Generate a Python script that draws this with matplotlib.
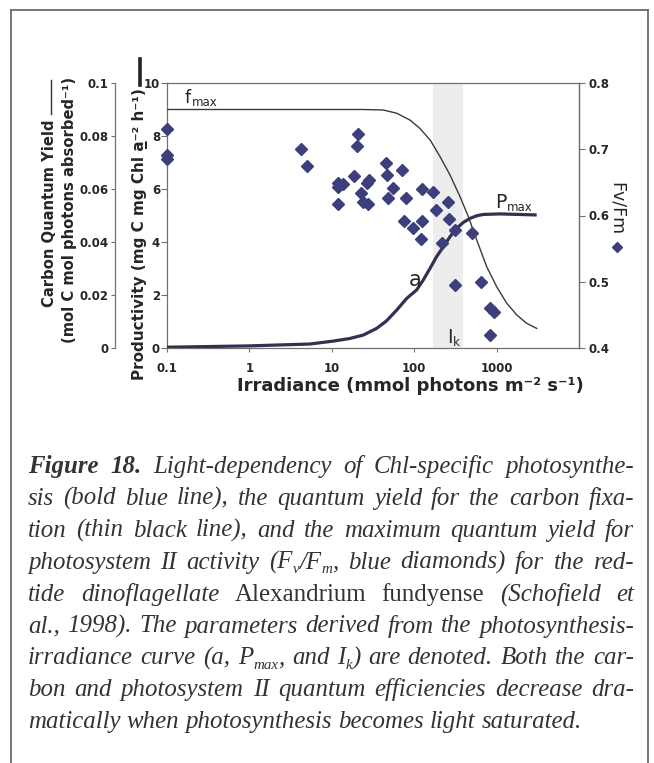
import re
import matplotlib
matplotlib.use('Agg')
import matplotlib.pyplot as plt
from matplotlib.lines import Line2D
from matplotlib.ticker import NullLocator, FixedLocator, FixedFormatter

# ---------------- data ----------------
# carbon quantum yield curve (thin black line), mol C / mol photons
irr_phi = [0.1, 1, 10, 24.2, 42.2, 61.3, 89, 117, 156, 206, 272, 360, 454, 573,
           758, 1003, 1326, 1754, 2318, 3065]
phi_c = [0.0900, 0.0900, 0.0900, 0.0900, 0.0898, 0.0886, 0.0860, 0.0829, 0.0785,
         0.0722, 0.0653, 0.0571, 0.0496, 0.0408, 0.0307, 0.0231, 0.0169, 0.0125,
         0.0093, 0.0074]

# productivity curve (bold line), mg C mg Chl a^-1 h^-1
irr_p = [0.1, 1.0, 5.4, 10.4, 16.6, 24.2, 35, 46, 61.3, 81, 107, 129, 156, 187,
         226, 272, 328, 395, 475, 573, 690, 1100, 3065]
prod = [0.03, 0.08, 0.15, 0.26, 0.36, 0.49, 0.74, 1.02, 1.43, 1.87, 2.19, 2.57,
        3.01, 3.45, 3.82, 4.20, 4.52, 4.74, 4.89, 4.99, 5.04, 5.06, 5.02]

# Fv/Fm (diamonds)
irr_fv = [0.1, 0.1, 0.1, 4.2, 5.0, 12, 12, 13.8, 12, 18.6, 21, 20, 22.3, 24, 27.6,
          26.4, 28, 46, 47, 48.5, 55, 72, 79, 75, 98, 123, 123, 120, 171, 184,
          215, 257, 267, 314, 314, 500, 645, 835, 935, 835]
fvfm = [0.730, 0.691, 0.685, 0.700, 0.675, 0.649, 0.643, 0.648, 0.617, 0.659,
        0.723, 0.705, 0.634, 0.621, 0.618, 0.649, 0.653, 0.679, 0.661, 0.626,
        0.641, 0.669, 0.626, 0.591, 0.581, 0.640, 0.591, 0.565, 0.636, 0.609,
        0.559, 0.620, 0.594, 0.578, 0.495, 0.573, 0.499, 0.460, 0.454, 0.420]

# shaded I_k band (irradiance range)
band = (170, 390)

x_ticks = [0.1, 1, 10, 100, 1000]
x_ticklabels = ['0.1', '1', '10', '100', '1000']
p_ticks = [0, 2, 4, 6, 8, 10]
p_ticklabels = ['0', '2', '4', '6', '8', '10']
q_ticks = [0, 0.02, 0.04, 0.06, 0.08, 0.1]
q_ticklabels = ['0', '0.02', '0.04', '0.06', '0.08', '0.1']
f_ticks = [0.4, 0.5, 0.6, 0.7, 0.8]
f_ticklabels = ['0.4', '0.5', '0.6', '0.7', '0.8']

caption_lines = [
    "**Figure 18.** Light-dependency of Chl-specific photosynthe-",
    "sis (bold blue line), the quantum yield for the carbon fixa-",
    "tion (thin black line), and the maximum quantum yield for",
    "photosystem II activity (F_{v}/F_{m}, blue diamonds) for the red-",
    "tide dinoflagellate ^^Alexandrium fundyense^^ (Schofield et",
    "al., 1998). The parameters derived from the photosynthesis-",
    "irradiance curve (a, P_{max}, and I_{k}) are denoted. Both the car-",
    "bon and photosystem II quantum efficiencies decrease dra-",
    "matically when photosynthesis becomes light saturated.",
]

# ---------------- figure ----------------
W, H = 654, 763
fig = plt.figure(figsize=(W / 100, H / 100), dpi=100)
fig.patch.set_facecolor('white')
plt.rcParams['font.family'] = ['DejaVu Sans']

TXT = '#262626'
SPINE = '#707070'
DIAM = '#3d3f7d'


def fx(px):
    return px / W


def fy(py):
    return 1 - py / H


# frame around the figure
for xs, ys in [([11, 11], [10, 763]), ([11, 648], [10, 10]), ([648, 648], [10, 763])]:
    fig.add_artist(Line2D([fx(v) for v in xs], [fy(v) for v in ys],
                          color='#6a6a6a', lw=1.3))

ax = fig.add_axes([fx(167), fy(348), (579 - 167) / W, (348 - 83) / H])
ax.set_xscale('log')
ax.set_xlim(0.1, 10000)
ax.set_ylim(0, 10)
ax.axvspan(band[0], band[1], color='#ededed', lw=0, zorder=0)
ax.plot(irr_p, prod, color='#30324f', lw=2.3, solid_capstyle='butt', zorder=3)
for s in ax.spines.values():
    s.set_color(SPINE)
    s.set_linewidth(0.9)

# carbon quantum yield axis (far left)
axq = ax.twinx()
axq.set_ylim(0, 0.1)
axq.plot(irr_phi, phi_c, color='#3a3a3a', lw=1.0, zorder=3)
axq.yaxis.tick_left()
axq.spines['left'].set_position(('outward', 52 * 72 / 100))
axq.spines['left'].set_color(SPINE)
axq.spines['left'].set_linewidth(0.9)
for k in ['right', 'top', 'bottom']:
    axq.spines[k].set_visible(False)
axq.yaxis.set_major_locator(FixedLocator(q_ticks))
axq.yaxis.set_major_formatter(FixedFormatter(q_ticklabels))
axq.tick_params(axis='y', direction='out', length=3, width=0.8, color=SPINE, pad=1.5,
                labelsize=8.5, labelcolor=TXT)
for t in axq.get_yticklabels():
    t.set_fontweight('bold')

# Fv/Fm axis (right)
axr = ax.twinx()
axr.set_ylim(0.4, 0.8)
axr.plot(irr_fv, fvfm, linestyle='none', marker='D', ms=6.3, color=DIAM,
         mec=DIAM, clip_on=False, zorder=4)
for k in ['left', 'top', 'bottom']:
    axr.spines[k].set_visible(False)
axr.spines['right'].set_color(SPINE)
axr.spines['right'].set_linewidth(0.9)
axr.yaxis.set_major_locator(FixedLocator(f_ticks))
axr.yaxis.set_major_formatter(FixedFormatter(f_ticklabels))
axr.tick_params(axis='y', direction='out', length=4, width=0.8, color=SPINE, pad=2.5,
                labelsize=8.5, labelcolor=TXT)
for t in axr.get_yticklabels():
    t.set_fontweight('bold')

# main axis ticks (set after twins so nothing resets them)
ax.set_xlim(0.1, 10000)
ax.xaxis.set_major_locator(FixedLocator(x_ticks))
ax.xaxis.set_major_formatter(FixedFormatter(x_ticklabels))
ax.xaxis.set_minor_locator(NullLocator())
ax.yaxis.set_major_locator(FixedLocator(p_ticks))
ax.yaxis.set_major_formatter(FixedFormatter(p_ticklabels))
ax.tick_params(axis='x', direction='out', length=3, width=0.8, color=SPINE, pad=7,
               labelsize=8.5, labelcolor=TXT)
ax.tick_params(axis='y', direction='out', length=4, width=0.8, color=SPINE, pad=1,
               labelsize=8.5, labelcolor=TXT)
for t in ax.get_xticklabels() + ax.get_yticklabels():
    t.set_fontweight('bold')

renderer = fig.canvas.get_renderer()


def sub_label(x, y, main, sub, size, subsize, weight='normal'):
    t = ax.text(x, y, main, fontsize=size, fontweight=weight, color=TXT,
                ha='left', va='baseline', zorder=6)
    w = t.get_window_extent(renderer=renderer).width * 72 / 100
    ax.annotate(sub, xy=(x, y), xytext=(w + 0.3, -size * 0.2),
                textcoords='offset points', fontsize=subsize, fontweight=weight,
                color=TXT, ha='left', va='baseline', zorder=6)


sub_label(0.165, 9.25, 'f', 'max', 12.5, 8.5)
sub_label(950, 5.3, 'P', 'max', 13.5, 8.5)
sub_label(250, 0.2, 'I', 'k', 13.5, 8.5)
ax.text(104, 2.57, 'a', fontsize=15, color=TXT, ha='center', va='center', zorder=6)

# axis titles
fig.text(fx(140), fy(234), 'Productivity (mg C mg Chl a\u0332\u207b\u00b2 h\u207b\u00b9)',
         rotation=90, ha='center', va='center', fontsize=11, fontweight='bold', color=TXT)
fig.add_artist(Line2D([fx(140), fx(140)], [fy(59), fy(85)], color='#222222', lw=2.6))

fig.text(fx(50), fy(213), 'Carbon Quantum Yield', rotation=90, ha='center',
         va='center', fontsize=10.6, fontweight='bold', color=TXT)
fig.add_artist(Line2D([fx(51), fx(51)], [fy(80), fy(114)], color='#333333', lw=1.0))
fig.text(fx(70), fy(210), '(mol C mol photons absorbed\u207b\u00b9)', rotation=90,
         ha='center', va='center', fontsize=10.6, fontweight='bold', color=TXT)

fig.text(fx(410), fy(386), 'Irradiance (mmol photons m\u207b\u00b2 s\u207b\u00b9)',
         ha='center', va='center', fontsize=13, fontweight='bold', color=TXT)

fig.text(fx(617), fy(209), 'Fv/Fm', rotation=270, ha='center', va='center',
         fontsize=12.5, color=TXT)
fig.add_artist(Line2D([fx(617)], [fy(247)], marker='D', ms=5.5, color=DIAM,
                      linestyle='none'))

# ---------------- caption (justified) ----------------
CAP_FAMILY = ['Liberation Serif', 'DejaVu Serif']
CAP_COLOR = '#333333'
LEFT, RIGHT = 28, 634
BASE0, LINE_H = 473, 31.9


def parse(line):
    words = [[]]
    bold = False
    up = False
    for tok in re.findall(r'\*\*|\^\^|_\{[^}]*\}|[^*^_]+', line):
        if tok == '**':
            bold = not bold
            continue
        if tok == '^^':
            up = not up
            continue
        st = 'normal' if up else 'italic'
        wt = 'bold' if bold else 'normal'
        if tok.startswith('_{'):
            words[-1].append((tok[2:-1], st, wt, True))
            continue
        parts = tok.split(' ')
        for i, p in enumerate(parts):
            if i > 0:
                words.append([])
            if p:
                words[-1].append((p, st, wt, False))
    return [w for w in words if w]


def measure(txt, style, weight, size):
    t = fig.text(0, 0, txt, fontsize=size, fontstyle=style, fontweight=weight,
                 family=CAP_FAMILY)
    w = t.get_window_extent(renderer=renderer).width
    t.remove()
    return w


def word_width(word, size):
    tot = 0
    for txt, st, wt, is_sub in word:
        tot += measure(txt, st, wt, size * (0.6 if is_sub else 1.0))
    return tot


parsed = [parse(l) for l in caption_lines]
FS0 = 18.0
space0 = 0.25 * FS0 * 100 / 72
nat = []
for words in parsed[:-1]:
    nat.append(sum(word_width(w, FS0) for w in words) + space0 * (len(words) - 1))
FS = FS0 * (RIGHT - LEFT - 8) / max(nat)
FS = max(15.0, min(19.5, FS))
space = 0.25 * FS * 100 / 72

for li, words in enumerate(parsed):
    widths = [word_width(w, FS) for w in words]
    if li < len(parsed) - 1 and len(words) > 1:
        gap = (RIGHT - LEFT - sum(widths)) / (len(words) - 1)
    else:
        gap = space
    x = LEFT
    base = BASE0 + li * LINE_H
    for w, ww in zip(words, widths):
        xx = x
        for txt, st, wt, is_sub in w:
            sz = FS * (0.6 if is_sub else 1.0)
            dy = 4.5 if is_sub else 0
            fig.text(fx(xx), fy(base + dy), txt, fontsize=sz, fontstyle=st,
                     fontweight=wt, family=CAP_FAMILY, color=CAP_COLOR,
                     ha='left', va='baseline')
            xx += measure(txt, st, wt, sz)
        x += ww + gap

fig.savefig('out.png', dpi=100, facecolor='white')
